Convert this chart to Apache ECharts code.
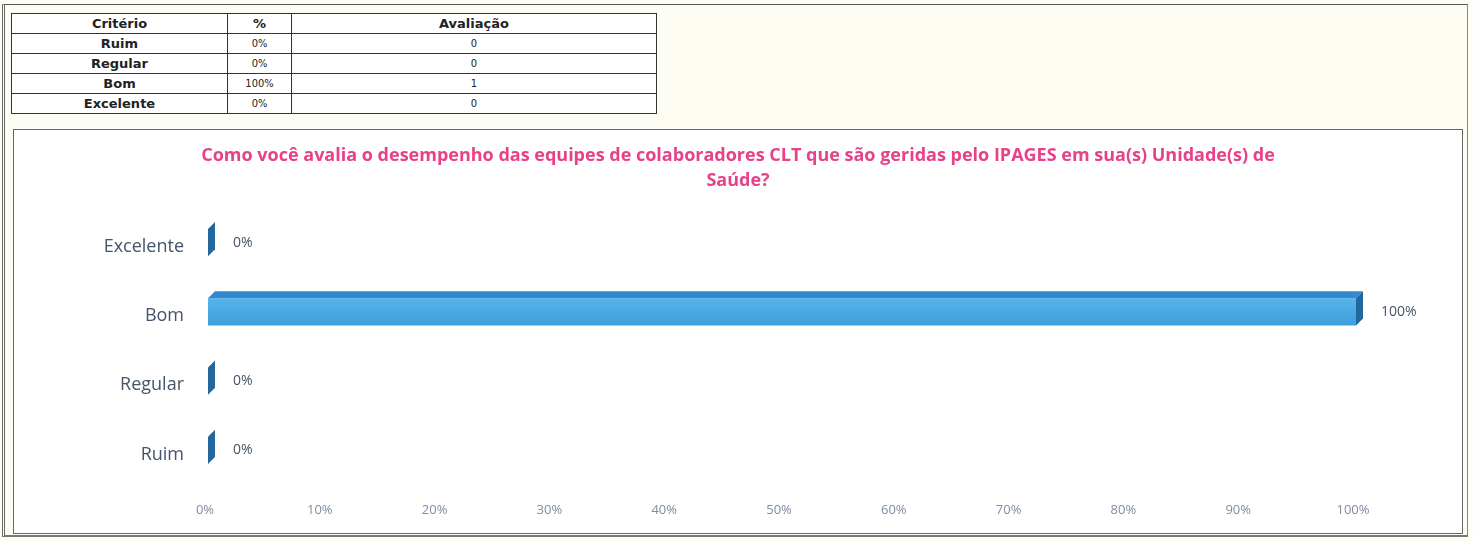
<!DOCTYPE html>
<html>
<head>
<meta charset="utf-8">
<script src="https://cdn.jsdelivr.net/npm/echarts@6/dist/echarts.min.js"></script>
<style>
  html, body { margin:0; padding:0; width:1473px; height:541px; overflow:hidden; background:#fdfdf3; }
  #frame { position:absolute; left:2px; top:4px; width:1466px; height:533px; border-left:3px double #666; border-top:1px solid #555; border-right:1px solid #888; border-bottom:2px solid #777; box-sizing:border-box; }
  #tbl { position:absolute; left:11px; top:13px; border-collapse:collapse; font-family:"DejaVu Sans", sans-serif; font-size:11px; color:#222; background:#fff; }
  #tbl td, #tbl th { border:1px solid #333; padding:0; height:19px; line-height:19px; text-align:center; }
  #tbl th { font-weight:bold; font-size:13px; }
  #tbl td.crit { font-weight:bold; font-size:13px; }
  #tbl td.pct, #tbl td.cnt { font-family:"Liberation Sans Narrow","DejaVu Sans Condensed",sans-serif; font-size:11px; }
  #chartbox { position:absolute; left:13px; top:129px; width:1450px; height:405px; border:1px solid #666; box-sizing:border-box; background:#fff; }
  #chart { position:absolute; left:0; top:0; width:1448px; height:403px; }
</style>
</head>
<body>
<div id="frame"></div>
<table id="tbl"></table>
<div id="chartbox"><div id="chart"></div></div>
<script>
// ---- data ----
const tableHeader = ['Critério', '%', 'Avaliação'];
const categories = ['Ruim', 'Regular', 'Bom', 'Excelente'];
const percents = [0, 0, 100, 0];
const counts = [0, 0, 1, 0];
const xTicks = [0, 10, 20, 30, 40, 50, 60, 70, 80, 90, 100];
const chartTitle = 'Como você avalia o desempenho das equipes de colaboradores CLT que são geridas pelo IPAGES em sua(s) Unidade(s) de\nSaúde?';

// ---- table ----
const tbl = document.getElementById('tbl');
const widths = [215, 63, 364];
let html = '<tr>' + tableHeader.map((h, i) => '<th style="width:' + widths[i] + 'px">' + h + '</th>').join('') + '</tr>';
categories.forEach((c, i) => {
  html += '<tr><td class="crit">' + c + '</td><td class="pct">' + percents[i] + '%</td><td class="cnt">' + counts[i] + '</td></tr>';
});
tbl.innerHTML = html;

// ---- chart ----
const chart = echarts.init(document.getElementById('chart'));
const depth = 7;
function renderItem(params, api) {
  const v = api.value(0);
  const c = api.value(1);
  const p0 = api.coord([0, c]);
  const p1 = api.coord([v, c]);
  const h = api.size([0, 1])[1] * 0.39;
  const x0 = p0[0] + 3;
  const x1 = Math.max(p1[0] + 3, x0);
  const yTop = p0[1] - h / 2 - 4;
  const yBot = yTop + h;
  const children = [];
  if (x1 - x0 > 0.5) {
    children.push({
      type: 'rect',
      shape: { x: x0, y: yTop, width: x1 - x0, height: h },
      style: { fill: new echarts.graphic.LinearGradient(0, 0, 0, 1, [
        { offset: 0, color: '#55b4ea' }, { offset: 1, color: '#3d9fdc' }]) }
    });
    children.push({
      type: 'polygon',
      shape: { points: [[x0, yTop], [x0 + depth, yTop - depth], [x1 + depth, yTop - depth], [x1, yTop]] },
      style: { fill: '#2f8ad0' }
    });
  }
  children.push({
    type: 'polygon',
    shape: { points: [[x1, yTop], [x1 + depth, yTop - depth], [x1 + depth, yBot - depth], [x1, yBot]] },
    style: { fill: '#22689f' }
  });
  children.push({
    type: 'text',
    style: {
      x: x1 + depth + 18, y: (yTop + yBot) / 2,
      text: v + '%', fill: '#44546a', fontSize: 14,
      fontFamily: 'Open Sans, sans-serif', verticalAlign: 'middle', align: 'left'
    }
  });
  return { type: 'group', children: children };
}

chart.setOption({
  animation: false,
  title: {
    text: chartTitle,
    left: 'center',
    top: 8,
    textStyle: { color: '#e8408a', fontSize: 18, fontWeight: 'bold', fontFamily: 'Open Sans, sans-serif', lineHeight: 25 }
  },
  grid: { left: 191, top: 82, width: 1148, height: 277, containLabel: false },
  xAxis: {
    type: 'value', min: 0, max: 100, interval: 10,
    axisLine: { show: false }, axisTick: { show: false }, splitLine: { show: false },
    axisLabel: { formatter: '{value}%', color: '#7f8ca3', fontSize: 13, fontFamily: 'Open Sans, sans-serif', margin: 15 }
  },
  yAxis: {
    type: 'category', data: categories,
    axisLine: { show: false }, axisTick: { show: false },
    axisLabel: { color: '#44546a', fontSize: 18, fontFamily: 'Open Sans, sans-serif', margin: 21 }
  },
  series: [{
    type: 'custom',
    renderItem: renderItem,
    encode: { x: 0, y: 1 },
    data: percents.map((p, i) => [p, i])
  }]
});
</script>
</body>
</html>
